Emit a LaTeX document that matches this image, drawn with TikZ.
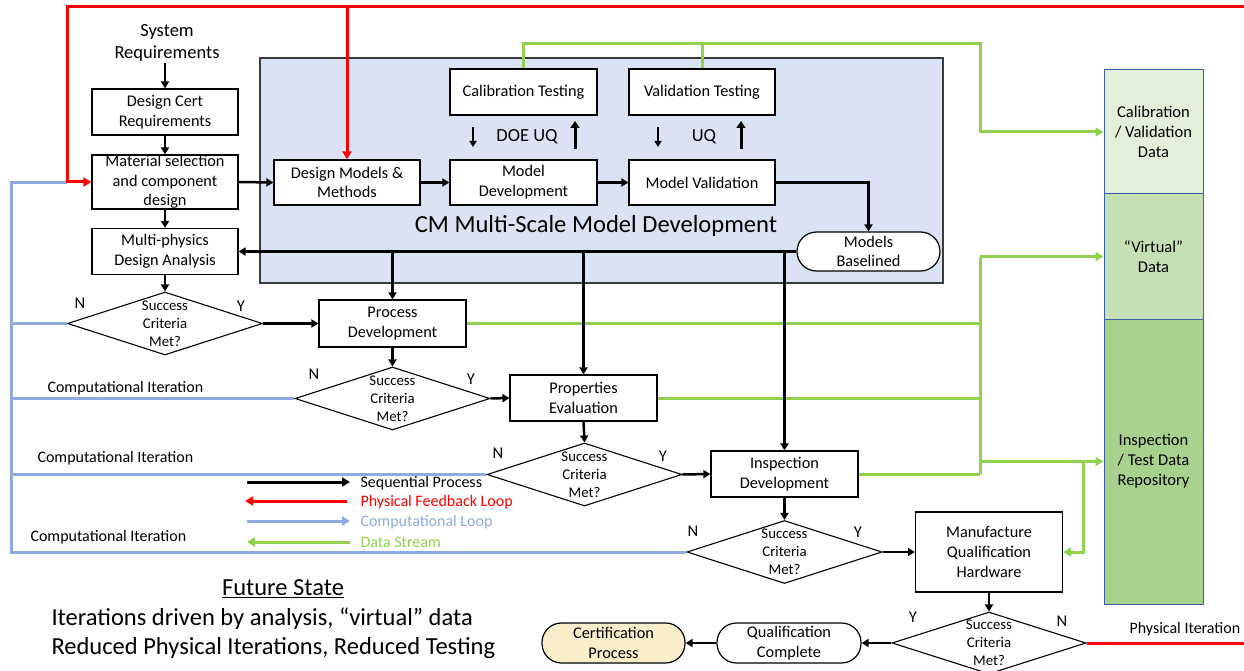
\documentclass[tikz,border=0pt]{standalone}
\usepackage{fontspec}
\setmainfont{Carlito}
\usetikzlibrary{arrows.meta,shapes.geometric}
\definecolor{loopred}{HTML}{FF0000}
\definecolor{datagreen}{HTML}{92D050}
\definecolor{compblue}{HTML}{8FAADC}
\definecolor{cmfill}{HTML}{DAE3F3}
\definecolor{cmedge}{HTML}{3A3A3A}
\definecolor{calfill}{HTML}{E2F0D9}
\definecolor{virtfill}{HTML}{C5E0B4}
\definecolor{repfill}{HTML}{A9D18E}
\definecolor{repedge}{HTML}{3B5EA8}
\definecolor{certfill}{HTML}{FBEECB}
\begin{document}
\begin{tikzpicture}[x=1pt,y=-1pt,
  box/.style={draw=black, line width=1.2pt, fill=white, rectangle, inner sep=0pt,
    align=center, font=\fontsize{16.3}{19.7}\selectfont},
  pill/.style={box, rounded corners=19.5pt},
  decision/.style={draw=black, line width=1.1pt, fill=white, diamond, inner sep=0pt,
    minimum width=195pt, minimum height=63pt},
  dectext/.style={align=center, font=\fontsize{14.8}{18}\selectfont},
  yn/.style={font=\fontsize{16.5}{19}\selectfont},
  store/.style={draw=repedge, line width=1pt, rectangle, inner sep=0pt, minimum width=99pt,
    align=center, font=\fontsize{16.5}{20}\selectfont},
  note/.style={font=\fontsize{16}{19}\selectfont},
  seqflow/.style={line width=2.5pt, -{Triangle[length=7pt,width=8pt]}},
  physflow/.style={line width=3pt, draw=loopred},
  compflow/.style={line width=3pt, draw=compblue},
  dataflow/.style={line width=3pt, draw=datagreen},
  headtip/.style={-{Triangle[length=8pt,width=9pt]}},
  thinarrow/.style={line width=1.8pt, -{Triangle[length=6pt,width=7pt]}},
  thickarrow/.style={line width=3pt, -{Triangle[length=7pt,width=9pt]}}
]
\useasboundingbox (0,0) rectangle (1244,671);
\fill[white] (0,0) rectangle (1244,671);

% ---------- CM multi-scale model development block ----------
\node[draw=cmedge, fill=cmfill, line width=1.2pt, minimum width=683pt, minimum height=225pt,
  inner sep=0pt] (cm) at (601.5,170.5) {};
\node[font=\fontsize{24.6}{28}\selectfont] (cmtitle) at (596,226) {CM Multi-Scale Model Development};

\node[box, minimum width=146pt, minimum height=45pt] (dmm) at (347,182.5) {Design Models \&\\Methods};
\node[box, minimum width=147pt, minimum height=45pt] (md) at (523.5,182.5) {Model\\Development};
\node[box, minimum width=146pt, minimum height=45pt] (mv) at (702,182.5) {Model Validation};
\node[box, minimum width=147pt, minimum height=46pt] (cal) at (523.5,92) {Calibration Testing};
\node[box, minimum width=146pt, minimum height=46pt] (val) at (702,92) {Validation Testing};
\node[pill, minimum width=143pt, minimum height=39pt] (mb) at (868.5,251.5) {Models\\Baselined};

\node[font=\fontsize{18.5}{22}\selectfont] (doe) at (527,137) {DOE UQ};
\node[font=\fontsize{18.5}{22}\selectfont] (uq) at (704,137) {UQ};
\coordinate (da1) at (473,127); \coordinate (da2) at (473,147);
\coordinate (ua1) at (575,149); \coordinate (ua2) at (575,121);
\coordinate (db1) at (658,127); \coordinate (db2) at (658,147);
\coordinate (ub1) at (741,149); \coordinate (ub2) at (741,121);
\draw[thinarrow] (da1) -- (da2);
\draw[thickarrow] (ua1) -- (ua2);
\draw[thinarrow] (db1) -- (db2);
\draw[thickarrow] (ub1) -- (ub2);

% ---------- main design chain ----------
\node[font=\fontsize{18.5}{22.5}\selectfont, align=center, inner sep=1pt] (sysreq) at (167,43) {System\\Requirements};
\node[box, minimum width=146pt, minimum height=46pt] (dcr) at (165,112) {Design Cert\\Requirements};
\node[box, minimum width=146pt, minimum height=54pt] (mat) at (165,182) {Material selection\\and component\\design};
\node[box, minimum width=146pt, minimum height=46pt] (mpd) at (165,251.5) {Multi-physics\\Design Analysis};

\node[decision] (d1) at (165,323.5) {};
\node[dectext] at (d1) {Success\\Criteria\\Met?};
\node[box, minimum width=147pt, minimum height=47pt] (pd) at (392.5,323.5) {Process\\Development};
\node[decision] (d2) at (392.5,398.5) {};
\node[dectext] at (d2) {Success\\Criteria\\Met?};
\node[box, minimum width=147pt, minimum height=46pt] (pe) at (583.5,398) {Properties\\Evaluation};
\node[decision] (d3) at (584.5,474.5) {};
\node[dectext] at (d3) {Success\\Criteria\\Met?};
\node[box, minimum width=147pt, minimum height=46pt] (ins) at (784.5,474) {Inspection\\Development};
\node[decision] (d4) at (784.5,552) {};
\node[dectext] at (d4) {Success\\Criteria\\Met?};
\node[box, minimum width=147pt, minimum height=80pt] (mqh) at (989,552) {Manufacture\\Qualification\\Hardware};
\node[decision, minimum width=194pt, minimum height=62pt] (d5) at (989,643) {};
\node[dectext] at (d5) {Success\\Criteria\\Met?};
\node[pill, minimum width=144pt, minimum height=40pt] (qc) at (789,643) {Qualification\\Complete};
\node[pill, fill=certfill, minimum width=143pt, minimum height=40pt] (cert) at (613.5,643) {Certification\\Process};

% decision labels
\node[yn] at (80,303) {N};   \node[yn] at (241,306) {Y};
\node[yn] at (314,374) {N};  \node[yn] at (471,379) {Y};
\node[yn] at (498,453) {N};  \node[yn] at (663,456) {Y};
\node[yn] at (693,531) {N};  \node[yn] at (858,532) {Y};
\node[yn] at (913,617) {Y};  \node[yn] at (1062,621) {N};

% ---------- data repository column ----------
\node[store, fill=calfill, minimum height=124pt] (cvd) at (1153.5,132) {Calibration\\/ Validation\\Data};
\node[store, fill=virtfill, minimum height=125pt] (virt) at (1153.5,256.5) {“Virtual”\\Data};
\node[store, fill=repfill, minimum height=285pt] (rep) at (1153.5,461.5) {Inspection\\/ Test Data\\Repository};

% ---------- computational loop (blue) ----------
\coordinate (bx) at (11,183);
\coordinate (bj) at (67,183);
\draw[compflow] (d4.west) -| (bx) -- (bj);
\draw[compflow] (d1.west) -- (d1.west -| bx);
\draw[compflow] (d2.west) -- (d2.west -| bx);
\draw[compflow] (d3.west) -- (d3.west -| bx);
\node[note, anchor=west] (ci1) at (44,388) {Computational Iteration};
\node[note, anchor=west] (ci2) at (34,458) {Computational Iteration};
\node[note, anchor=west] (ci3) at (27,537) {Computational Iteration};

% ---------- physical feedback loop (red) ----------
\coordinate (rtl) at (67,7);
\coordinate (rtr) at (1250,7);
\coordinate (rbr) at (1250,643);
\draw[physflow, headtip] (rtr) -- (rtl) |- (mat.west);
\draw[physflow, headtip] (dmm.north |- rtl) -- (dmm.north);
\draw[physflow] (d5.east) -- (rbr);
\node[note, anchor=west] (piter) at (1126,629) {Physical Iteration};

% ---------- data streams (green) ----------
\coordinate (gt) at (980,44);
\coordinate (gx) at (980,0);
\coordinate (gb) at (1083,0);
\draw[dataflow] (cal.north) |- (gt);
\draw[dataflow, headtip] (val.north) |- (gt) |- (cvd.west);
\draw[dataflow] (pd.east) -- (pd.east -| gx);
\draw[dataflow] (pe.east) -- (pe.east -| gx);
\draw[dataflow] (ins.east) -- (ins.east -| gx);
\draw[dataflow] (virt.west -| gx) -- (ins.east -| gx);
\draw[dataflow, headtip] (virt.west -| gx) -- (virt.west);
\draw[dataflow, headtip] (rep.west -| gx) -- (rep.west);
\draw[dataflow, headtip] (rep.west -| gb) |- (mqh.east);

% ---------- sequential process (black) ----------
\draw[seqflow] (dcr.north |- sysreq.south) -- (dcr.north);
\draw[seqflow] (dcr.south) -- (mat.north);
\draw[seqflow] (mat.south) -- (mpd.north);
\draw[seqflow] (mpd.south) -- (d1.north);
\draw[seqflow] (d1.east) -- (pd.west);
\draw[seqflow] (pd.south) -- (d2.north);
\draw[seqflow] (d2.east) -- (pe.west);
\draw[seqflow] (pe.south) -- (d3.north);
\draw[seqflow] (d3.east) -- (ins.west);
\draw[seqflow] (ins.south) -- (d4.north);
\draw[seqflow] (d4.east) -- (mqh.west);
\draw[seqflow] (mqh.south) -- (d5.north);
\draw[seqflow] (d5.west) -- (qc.east);
\draw[seqflow] (qc.west) -- (cert.east);
\draw[seqflow] (mat.east) -- (dmm.west);
\draw[seqflow] (dmm.east) -- (md.west);
\draw[seqflow] (md.east) -- (mv.west);
\draw[seqflow] (mv.east) -| (mb.north);
\draw[seqflow] (mb.west) -- (mpd.east);
\draw[seqflow] (pd.north |- mb.west) -- (pd.north);
\draw[seqflow] (pe.north |- mb.west) -- (pe.north);
\draw[seqflow] (ins.north |- mb.west) -- (ins.north);

% ---------- legend ----------
\coordinate (lg1a) at (247,482); \coordinate (lg1b) at (350,482);
\coordinate (lg2a) at (347,501); \coordinate (lg2b) at (245,501);
\coordinate (lg3a) at (247,521); \coordinate (lg3b) at (350,521);
\coordinate (lg4a) at (350,542); \coordinate (lg4b) at (247,542);
\draw[line width=3pt, -{Triangle[length=8pt,width=9pt]}] (lg1a) -- (lg1b);
\draw[physflow, headtip] (lg2a) -- (lg2b);
\draw[compflow, headtip] (lg3a) -- (lg3b);
\draw[dataflow, headtip] (lg4a) -- (lg4b);
\node[note, anchor=west] (lt1) at (357,483) {Sequential Process};
\node[note, anchor=west, text=loopred] (lt2) at (357,502) {Physical Feedback Loop};
\node[note, anchor=west, text=compblue] (lt3) at (357,522) {Computational Loop};
\node[note, anchor=west, text=datagreen] (lt4) at (357,542) {Data Stream};

% ---------- summary ----------
\node[font=\fontsize{24.5}{29}\selectfont] (fs) at (283,589) {\underline{Future State}};
\node[font=\fontsize{24.5}{29}\selectfont, anchor=west] (fs1) at (48,619) {Iterations driven by analysis, “virtual” data};
\node[font=\fontsize{24.5}{29}\selectfont, anchor=west] (fs2) at (48,648) {Reduced Physical Iterations, Reduced Testing};
\end{tikzpicture}
\end{document}
